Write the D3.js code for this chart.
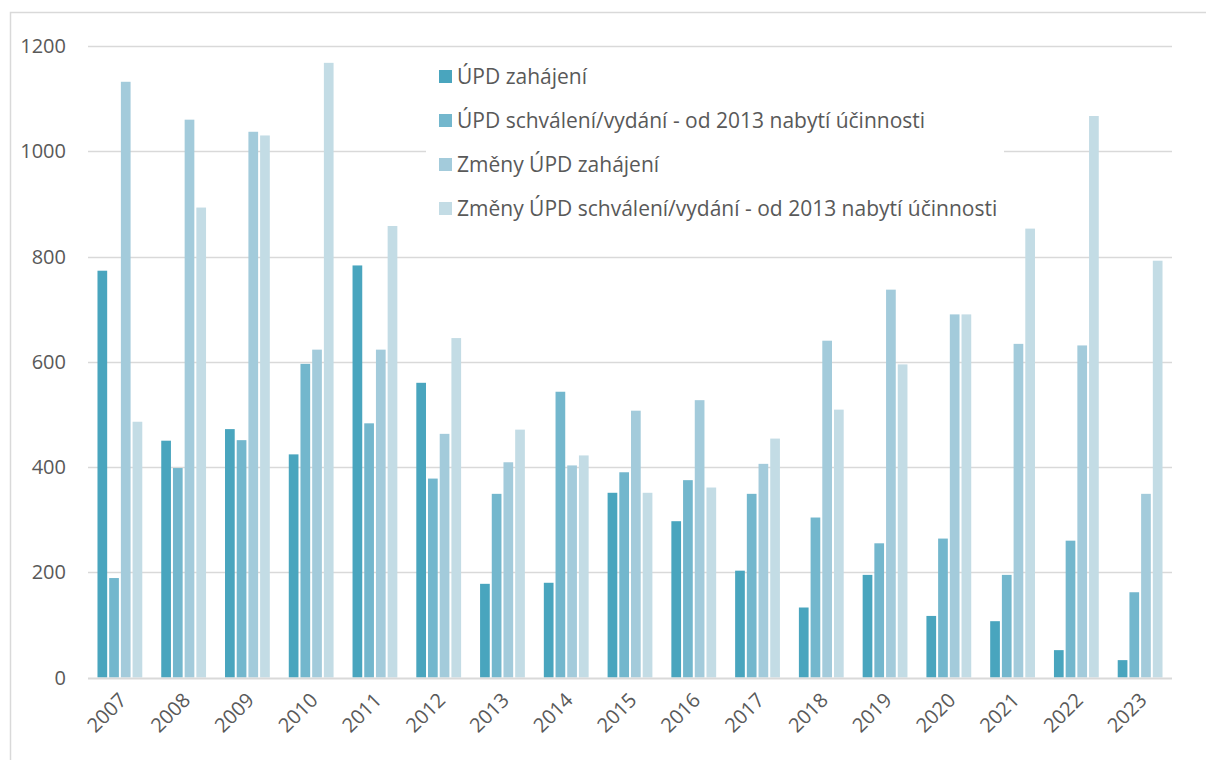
<!DOCTYPE html>
<html>
<head>
<meta charset="utf-8">
<script src="https://cdn.jsdelivr.net/npm/d3@7"></script>
<style>
  body { margin: 0; background: #fff; }
  svg { display: block; font-family: "Open Sans", "Noto Sans", sans-serif; }
</style>
</head>
<body>
<svg id="chart" width="1206" height="760"></svg>
<script>
const years = ["2007","2008","2009","2010","2011","2012","2013","2014","2015","2016","2017","2018","2019","2020","2021","2022","2023"];
const seriesNames = [
    "ÚPD zahájení",
    "ÚPD schválení/vydání - od 2013 nabytí účinnosti",
    "Změny ÚPD zahájení",
    "Změny ÚPD schválení/vydání - od 2013 nabytí účinnosti"
];
const updZahajeni   = [773, 450, 472, 424, 783, 560, 178, 180, 351, 297, 203, 133, 195, 117, 107, 52, 33];
const updSchvaleni  = [189, 398, 451, 596, 483, 378, 349, 543, 390, 375, 349, 304, 255, 264, 195, 260, 162];
const zmenyZahajeni = [1132, 1060, 1037, 623, 623, 463, 409, 403, 507, 527, 406, 640, 737, 690, 634, 631, 349];
const zmenySchvaleni = [486, 893, 1030, 1168, 858, 645, 471, 422, 351, 361, 454, 509, 595, 690, 853, 1067, 792];
const colors = ["#49a5be", "#73b7cd", "#a3cbdb", "#c3dce5"];
const yTicks = [0, 200, 400, 600, 800, 1000, 1200];

const allSeries = [updZahajeni, updSchvaleni, zmenyZahajeni, zmenySchvaleni];

const svg = d3.select("#chart");
const W = 1206, H = 760;
const plotLeft = 88, plotRight = 1172, plotTop = 46, plotBottom = 677.5;

// chart frame (only top/left visible in the crop)
svg.append("path")
    .attr("d", `M10.5,${H}V12.5H${W}`)
    .attr("fill", "none")
    .attr("stroke", "#d9d9d9")
    .attr("stroke-width", 1.5);

const y = d3.scaleLinear().domain([0, 1200]).range([plotBottom, plotTop]);
const x = d3.scaleBand().domain(years).range([plotLeft, plotRight])
    .paddingInner(0.266).paddingOuter(0.133);
const xs = d3.scaleBand().domain(d3.range(4)).range([0, x.bandwidth()]);

// gridlines
svg.append("g").selectAll("line")
    .data(yTicks.filter(d => d > 0))
    .join("line")
    .attr("x1", plotLeft).attr("x2", plotRight)
    .attr("y1", d => Math.round(y(d)) + 0.5).attr("y2", d => Math.round(y(d)) + 0.5)
    .attr("stroke", "#d9d9d9")
    .attr("stroke-width", 1.5);

// y tick labels
svg.append("g").selectAll("text")
    .data(yTicks)
    .join("text")
    .attr("x", 66).attr("y", d => y(d))
    .attr("dy", "0.35em")
    .attr("text-anchor", "end")
    .attr("fill", "#595959")
    .attr("font-size", 20)
    .text(d => d);

// bars
const groups = svg.append("g").selectAll("g")
    .data(years)
    .join("g")
    .attr("transform", d => `translate(${x(d)},0)`);

groups.selectAll("rect")
    .data((d, i) => allSeries.map((s, k) => ({k: k, v: s[i]})))
    .join("rect")
    .attr("x", d => xs(d.k) + 1)
    .attr("width", xs.bandwidth() - 2)
    .attr("y", d => y(d.v))
    .attr("height", d => y(0) - y(d.v))
    .attr("fill", d => colors[d.k]);

// baseline axis
svg.append("line")
    .attr("x1", plotLeft).attr("x2", plotRight)
    .attr("y1", plotBottom + 1).attr("y2", plotBottom + 1)
    .attr("stroke", "#d9d9d9")
    .attr("stroke-width", 2);

// x labels, rotated
svg.append("g").selectAll("text")
    .data(years)
    .join("text")
    .attr("transform", d => `translate(${x(d) + x.bandwidth() / 2 + 3},${plotBottom + 19}) rotate(-45)`)
    .attr("text-anchor", "end")
    .attr("dy", "0.35em")
    .attr("fill", "#595959")
    .attr("font-size", 20)
    .text(d => d);

// legend with white background
const legend = svg.append("g");
legend.append("rect")
    .attr("x", 426).attr("y", 52)
    .attr("width", 578).attr("height", 182)
    .attr("fill", "#fff");

const rows = legend.selectAll("g")
    .data(seriesNames)
    .join("g")
    .attr("transform", (d, i) => `translate(439,${77 + i * 44})`);

rows.append("rect")
    .attr("x", 0).attr("y", -7)
    .attr("width", 13).attr("height", 13)
    .attr("fill", (d, i) => colors[i]);

rows.append("text")
    .attr("x", 18).attr("dy", "0.35em")
    .attr("fill", "#595959")
    .attr("font-size", 21)
    .text(d => d);
</script>
</body>
</html>
